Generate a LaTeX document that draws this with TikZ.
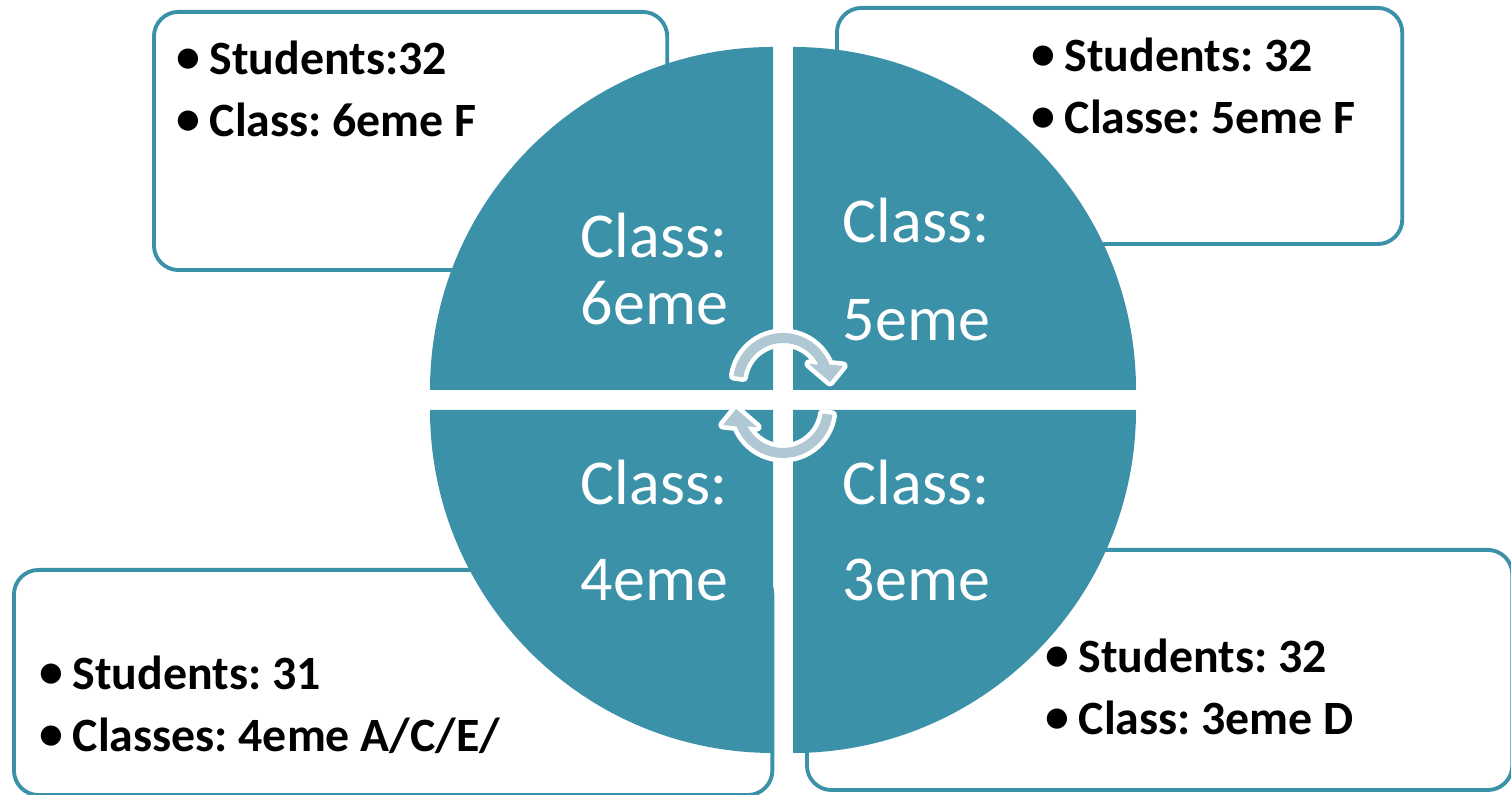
\documentclass[tikz,border=0pt]{standalone}
\usepackage{fontspec}
\setmainfont{Carlito}
\definecolor{segteal}{RGB}{58,145,168}
\definecolor{arrowblue}{RGB}{175,200,212}
\newcommand{\bul}{\makebox[0.34cm][l]{\hspace{0.01cm}\raisebox{0.1ex}{\textbullet}}}
\frenchspacing
\begin{document}
\begin{tikzpicture}[x=0.01cm,y=0.01cm,line join=round]
	\tikzset{infobox/.style={draw=segteal,line width=1.1pt,rounded corners=7pt,fill=white,anchor=south west,inner sep=0pt},
		boxtext/.style={anchor=base west,inner sep=0pt,font=\fontsize{13.6pt}{16pt}\selectfont\bfseries},
		segtext/.style={anchor=base west,inner sep=0pt,text=white,font=\fontsize{18.2pt}{22pt}\selectfont},
		quarter/.style={fill=segteal},
		turn/.style={fill=arrowblue,preaction={draw=white,line width=2.6pt}}}
	\useasboundingbox (0,0) rectangle (1511,795);
	\fill[white] (0,0) rectangle (1511,795);
	% boxes behind the circle
	\node[infobox,minimum width=5.13cm,minimum height=2.58cm] (boxTL) at (152,523) {};
	\node[infobox,minimum width=5.65cm,minimum height=2.36cm] (boxTR) at (835,549) {};
	\node[infobox,minimum width=7.58cm,minimum height=2.25cm] (boxBL) at (12,-2) {};
	\node[infobox,minimum width=7.05cm,minimum height=2.40cm] (boxBR) at (805,3) {};
	% circle in four quarters
	\fill[quarter] (773,405) -- ++(-343,0) arc (180:90:343) -- cycle;
	\fill[quarter] (793,405) -- ++(0,343) arc (90:0:343) -- cycle;
	\fill[quarter] (773,385) -- ++(-343,0) arc (180:270:343) -- cycle;
	\fill[quarter] (793,385) -- ++(343,0) arc (0:-90:343) -- cycle;
	% turning arrows
	\begin{scope}[shift={(783,412)}]
		\fill[turn] (172:50) arc (172:21.7:50) -- (60,17) -- (47,1) -- (26,19) -- (27.5:40) arc (27.5:172:40) -- cycle;
	\end{scope}
	\begin{scope}[shift={(783,387)},rotate=180]
		\fill[turn] (172:50) arc (172:21.7:50) -- (60,17) -- (47,1) -- (26,19) -- (27.5:40) arc (27.5:172:40) -- cycle;
	\end{scope}
	% labels in the quarters
	\node[segtext] (c6a) at (580,537) {Class:};
	\node[segtext] (c6b) at (580,470) {6eme};
	\node[segtext] (c5a) at (842,552) {Class:};
	\node[segtext] (c5b) at (842,454) {5eme};
	\node[segtext] (c4a) at (580,290) {Class:};
	\node[segtext] (c4b) at (580,194) {4eme};
	\node[segtext] (c3a) at (842,290) {Class:};
	\node[segtext] (c3b) at (842,194) {3eme};
	% labels in the boxes
	\node[boxtext] (tl1) at (175,720) {\bul Students:32};
	\node[boxtext] (tl2) at (175,658) {\bul Class: 6eme F};
	\node[boxtext] (tr1) at (1030,723) {\bul Students: 32};
	\node[boxtext] (tr2) at (1030,661) {\bul Classe: 5eme F};
	\node[boxtext] (bl1) at (38,105) {\bul Students: 31};
	\node[boxtext] (bl2) at (38,43) {\bul Classes: 4eme A/C/E/};
	\node[boxtext] (br1) at (1044,122) {\bul Students: 32};
	\node[boxtext] (br2) at (1044,60) {\bul Class: 3eme D};
\end{tikzpicture}
\end{document}
